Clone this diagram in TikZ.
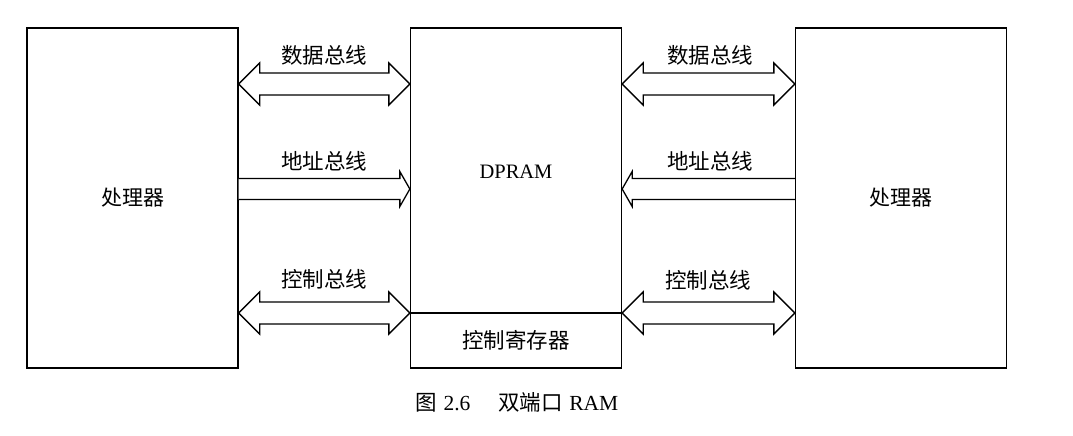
\documentclass[tikz,border=0pt]{standalone}
\usepackage{fontspec}
\setmainfont{Liberation Serif}
\newfontfamily\cjk{Noto Sans CJK SC}
\usetikzlibrary{calc}
\tikzset{
  box/.style={draw, line width=1.3pt, minimum width=211pt, minimum height=340pt, inner sep=0pt, font=\cjk\fontsize{21}{24}\selectfont},
  bus/.style={draw, line width=1.3pt, line join=miter, fill=white},
  lbl/.style={inner sep=0pt, font=\cjk\fontsize{21.5}{24}\selectfont},
}
% double fat arrow: #1 left tip, #2 right tip (same y)
\newcommand\busboth[2]{%
  \draw[bus] #1 -- ($#1+(21,-21)$) -- ($#1+(21,-11)$) -- ($#2+(-21,-11)$) -- ($#2+(-21,-21)$) -- #2
   -- ($#2+(-21,21)$) -- ($#2+(-21,11)$) -- ($#1+(21,11)$) -- ($#1+(21,21)$) -- cycle;}
% single arrow pointing right: #1 tail, #2 tip
\newcommand\busright[2]{%
  \draw[bus] ($#1+(0,-10.5)$) -- ($#2+(-10,-10.5)$) -- ($#2+(-10,-17.5)$) -- #2 -- ($#2+(-10,17.5)$) -- ($#2+(-10,10.5)$) -- ($#1+(0,10.5)$);}
% single arrow pointing left: #1 tip, #2 tail
\newcommand\busleft[2]{%
  \draw[bus] ($#2+(0,-10.5)$) -- ($#1+(10,-10.5)$) -- ($#1+(10,-17.5)$) -- #1 -- ($#1+(10,17.5)$) -- ($#1+(10,10.5)$) -- ($#2+(0,10.5)$);}
\begin{document}
\begin{tikzpicture}[x=1pt,y=-1pt]
\useasboundingbox (0,0) rectangle (1073,436);
\node[box] (L) at (132.5,198) {处理器};
\node[box] (M) at (516,198) {};
\node[box] (R) at (901,198) {处理器};
\node[inner sep=0pt, font=\fontsize{20.5}{24}\selectfont] (dp) at (516,172) {DPRAM};
\coordinate (mdl) at (M.west |- 0,313);
\coordinate (mdr) at (M.east |- 0,313);
\draw[line width=1.3pt] (mdl) -- (mdr);
\node[lbl] (reg) at (516,340) {控制寄存器};
% left buses
\coordinate (a1) at (L.east |- 0,84);
\coordinate (a2) at (M.west |- 0,84);
\busboth{(a1)}{(a2)}
\coordinate (b1) at (L.east |- 0,189);
\coordinate (b2) at (M.west |- 0,189);
\busright{(b1)}{(b2)}
\coordinate (c1) at (L.east |- 0,313);
\coordinate (c2) at (M.west |- 0,313);
\busboth{(c1)}{(c2)}
% right buses
\coordinate (d1) at (M.east |- 0,84);
\coordinate (d2) at (R.west |- 0,84);
\busboth{(d1)}{(d2)}
\coordinate (e1) at (M.east |- 0,189);
\coordinate (e2) at (R.west |- 0,189);
\busleft{(e1)}{(e2)}
\coordinate (f1) at (M.east |- 0,313);
\coordinate (f2) at (R.west |- 0,313);
\busboth{(f1)}{(f2)}
% labels
\node[lbl] (t1) at (324,55) {数据总线};
\node[lbl] (t2) at (324,161) {地址总线};
\node[lbl] (t3) at (324,279) {控制总线};
\node[lbl] (t4) at (710,55) {数据总线};
\node[lbl] (t5) at (710,161) {地址总线};
\node[lbl] (t6) at (708,280) {控制总线};
\node[inner sep=0pt, font=\fontsize{21.5}{24}\selectfont] (cap) at (517,402) {{\cjk 图}\hspace{0.3em}2.6\hspace{1.3em}{\cjk 双端口}\hspace{0.3em}RAM};
\end{tikzpicture}
\end{document}
